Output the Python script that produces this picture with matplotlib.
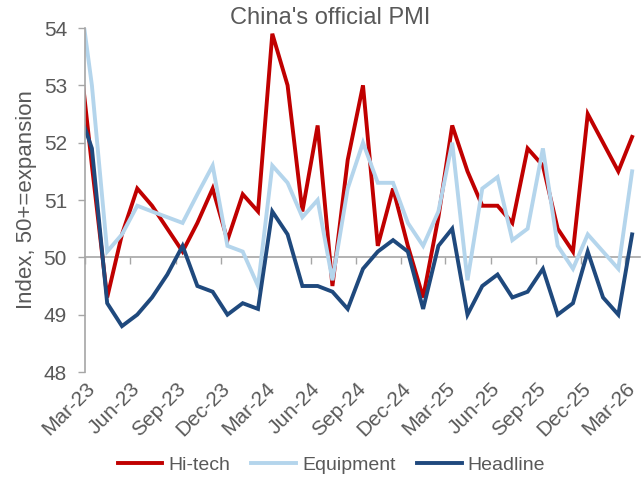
import matplotlib
matplotlib.use("Agg")
import matplotlib.pyplot as plt
import matplotlib.dates as mdates
import pandas as pd

plt.rcParams['font.family'] = ['Liberation Sans', 'DejaVu Sans']

# --- Data (monthly, Feb-23 .. Mar-26; first point sits just left of the axis) ---
months = pd.date_range('2023-02-01', '2026-03-01', freq='MS') + pd.Timedelta(days=14)

hitech = [53.8, 51.6, 49.3, 50.4, 51.2, 50.9, 50.5, 50.1, 50.6, 51.2, 50.3,
          51.1, 50.8, 53.9, 53.0, 50.8, 52.3, 49.5, 51.7, 53.0, 50.2, 51.2, 50.2,
          49.3, 50.7, 52.3, 51.5, 50.9, 50.9, 50.6, 51.9, 51.6, 50.5, 50.1, 52.5,
          52.0, 51.5, 52.1]
equipment = [54.8, 53.0, 50.1, 50.4, 50.9, 50.8, 50.7, 50.6, 51.1, 51.6, 50.2,
             50.1, 49.5, 51.6, 51.3, 50.7, 51.0, 49.6, 51.2, 52.0, 51.3, 51.3, 50.6,
             50.2, 50.8, 52.0, 49.6, 51.2, 51.4, 50.3, 50.5, 51.9, 50.2, 49.8, 50.4,
             50.1, 49.8, 51.5]
headline = [52.6, 51.9, 49.2, 48.8, 49.0, 49.3, 49.7, 50.2, 49.5, 49.4, 49.0,
            49.2, 49.1, 50.8, 50.4, 49.5, 49.5, 49.4, 49.1, 49.8, 50.1, 50.3, 50.1,
            49.1, 50.2, 50.5, 49.0, 49.5, 49.7, 49.3, 49.4, 49.8, 49.0, 49.2, 50.1,
            49.3, 49.0, 50.4]

series_names = ['Hi-tech', 'Equipment', 'Headline']
series_colors = ['#C00000', '#B4D5EC', '#1F497D']

text_col = '#595959'
axis_col = '#A6A6A6'

# --- Plotting ---
fig = plt.figure(figsize=(6.42, 4.86), dpi=100)
ax = fig.add_axes([85 / 642, 1 - 372 / 486, 555 / 642, 344 / 486])

for vals, name, col in zip([hitech, equipment, headline], series_names, series_colors):
    ax.plot(months, vals, color=col, lw=2.8, label=name, solid_joinstyle='miter')

ax.set_xlim(pd.Timestamp('2023-03-01'), pd.Timestamp('2026-03-31'))
ax.set_ylim(48, 54)
ax.set_yticks(range(48, 55))

locator = mdates.MonthLocator(bymonth=[3, 6, 9, 12], bymonthday=1)
ax.xaxis.set_major_locator(locator)
ax.xaxis.set_major_formatter(mdates.DateFormatter('%b-%y'))
ax.tick_params(axis='x', length=0, pad=5, labelsize=15, colors=text_col)
plt.setp(ax.get_xticklabels(), rotation=45, ha='right', rotation_mode='anchor')
ax.tick_params(axis='y', length=5, width=1, color=axis_col, labelsize=15,
               labelcolor=text_col, pad=8)

for s in ['top', 'right', 'bottom']:
    ax.spines[s].set_visible(False)
ax.spines['left'].set_color(axis_col)
ax.spines['left'].set_linewidth(1.2)

# horizontal axis crossing at 50
sec = ax.secondary_xaxis((50 - 48) / (54 - 48))
sec.xaxis.set_major_locator(locator)
sec.tick_params(axis='x', direction='out', length=5, width=1, color=axis_col, labelbottom=False)
sec.set_xticklabels([])
sec.spines['bottom'].set_color(axis_col)
sec.spines['bottom'].set_linewidth(1.2)

ax.set_ylabel('Index, 50+=expansion', fontsize=16, color=text_col, labelpad=5)

fig.text(0.515, 0.962, "China's official PMI", ha='center', va='center',
         fontsize=17, color=text_col)

fig.legend(loc='center', bbox_to_anchor=(0.516, 0.043), ncol=3, frameon=False,
           fontsize=14, labelcolor=text_col, handlelength=2.3, columnspacing=1.1,
           handletextpad=0.3)

fig.savefig('out.png', dpi=100)
